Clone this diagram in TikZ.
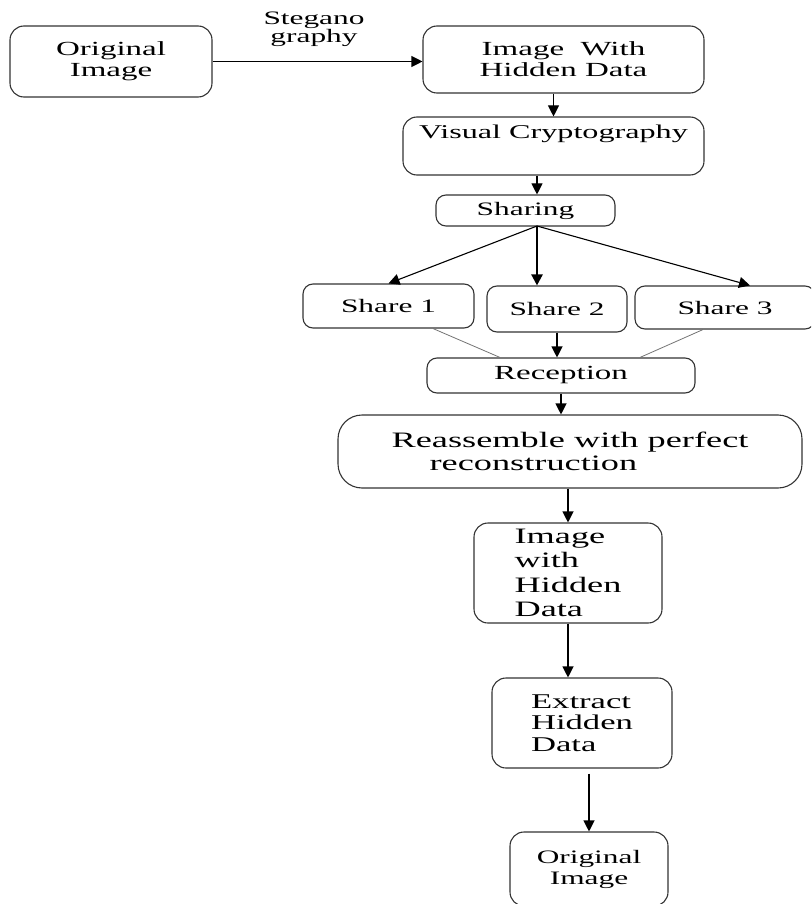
\documentclass[tikz,border=0pt]{standalone}
\usepackage{fontspec}
\setmainfont[FakeStretch=1.65]{Liberation Serif}
\usetikzlibrary{arrows.meta,calc}

\tikzset{
	box/.style={draw=black!80, line width=1.1pt, rounded corners=14pt, align=center, inner sep=1pt, font=\fontsize{20}{21}\selectfont},
	arr/.style={-{Triangle[length=11pt,width=11pt]}, line width=1.1pt},
	feed/.style={draw=black!55, line width=0.8pt},
}

\begin{document}
\begin{tikzpicture}[x=1pt,y=-1pt]
		\useasboundingbox (0,0) rectangle (811,904);
		\clip (0,0) rectangle (811,904);
		
		\node[box, minimum width=202pt, minimum height=71pt] (orig) at (111,61.5) {Original\\Image};
		\node[box, minimum width=281pt, minimum height=67pt] (hid) at (563.5,59.5) {Image~ With\\Hidden Data};
		\node[box, minimum width=301pt, minimum height=58pt, font=\fontsize{19.5}{22}\selectfont] (visual) at (553.5,146) {Visual Cryptography\\\strut};
		\node[box, rounded corners=10pt, minimum width=179pt, minimum height=31pt, font=\fontsize{19}{20}\selectfont] (sharing) at (525.5,210.5) {Sharing};
		
		\node[box, rounded corners=10pt, minimum width=171pt, minimum height=44pt, font=\fontsize{19}{20}\selectfont] (s1) at (388.5,306) {Share 1};
		\node[box, rounded corners=10pt, minimum width=140pt, minimum height=46pt, font=\fontsize{19}{20}\selectfont] (s2) at (557,309) {Share 2};
		\node[box, rounded corners=10pt, minimum width=180pt, minimum height=43pt, font=\fontsize{19}{20}\selectfont] (s3) at (725,307.5) {Share 3};
		
		\node[box, rounded corners=10pt, minimum width=268pt, minimum height=35pt] (recep) at (561,375.5) {Reception};
		\node[box, rounded corners=24pt, minimum width=464pt, minimum height=73pt, align=left, font=\fontsize{22}{23}\selectfont] (reasm) at (570,451.5) {Reassemble with perfect\\\hspace*{38pt}reconstruction};
		\node[box, minimum width=188pt, minimum height=100pt, align=left, font=\fontsize{22}{24.5}\selectfont] (imghid) at (568,573) {Image\\with\\Hidden\\Data};
		\node[box, minimum width=180pt, minimum height=90pt, align=left, font=\fontsize{21}{21.5}\selectfont] (extract) at (582,723) {Extract\\Hidden\\Data};
		\node[box, minimum width=158pt, minimum height=74pt, font=\fontsize{19}{21}\selectfont] (orig2) at (589,869) {Original\\Image};
		
		\node[align=center, inner sep=0pt, font=\fontsize{19}{18}\selectfont] (steg) at (314,29) {Stegano\\graphy};
		
		\coordinate (fork) at (537,226);
		
		\draw[arr] (orig.east) -- (orig.east -| hid.west);
		\draw[arr] (visual.north |- hid.south) -- (visual.north);
		\draw[arr] (fork |- visual.south) -- (fork |- sharing.north);
		
		\draw[arr] (fork) -- (s1.north);
		\draw[arr, line width=2.4pt] (fork) -- (fork |- s2.north);
		\draw[arr] (fork) -- ($(s3.north)+(25,0)$);
		
		\draw[feed] ($(s1.south)+(44.5,0)$) -- ($(recep.north)+(-61,0)$);
		\draw[feed] ($(s3.south)+(-22,0)$) -- ($(recep.north)+(79,0)$);
		\draw[arr] (s2.south) -- (s2.south |- recep.north);
		
		\draw[arr] (recep.south) -- (recep.south |- reasm.north);
		\draw[arr] (imghid.north |- reasm.south) -- (imghid.north);
		\draw[arr] (imghid.south) -- (imghid.south |- extract.north);
		\draw[arr, shorten <=5pt] (orig2.north |- extract.south) -- (orig2.north);
	\end{tikzpicture}
\end{document}
